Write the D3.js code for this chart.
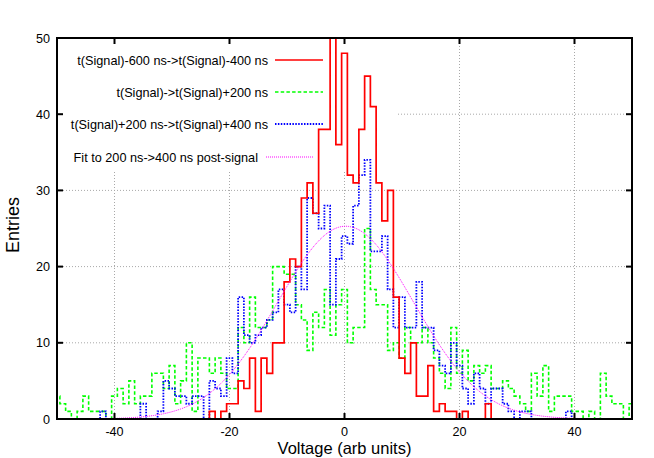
<!DOCTYPE html>
<html><head><meta charset="utf-8">
<script src="https://cdn.jsdelivr.net/npm/d3@7"></script>
<style>
body{margin:0;background:#fff}
text{font-family:"Liberation Sans",Arial,Helvetica,sans-serif;fill:#000}
</style>
</head><body>
<svg id="chart" width="654" height="458"></svg>
<script>
// ---- data ----
const binCenters = d3.range(-50, 51); // voltage bins, width 1
const xTicks = [-40, -20, 0, 20, 40];
const yTicks = [0, 10, 20, 30, 40, 50];
const seriesNames = [
  "t(Signal)-600 ns->t(Signal)-400 ns",
  "t(Signal)->t(Signal)+200 ns",
  "t(Signal)+200 ns->t(Signal)+400 ns",
  "Fit to 200 ns->400 ns post-signal"
];
const redValues = [
  0,0,0,0,0,0,0,0,0,0,
  0,0,0,0,0,0,0,0,0,0,
  0,0,0,0,0,0,0,1,0,1,
  2,2,5,4,8,1,8,6,10,10,
  18,21,20,29,31,27,38,38,55,36,
  48,32,31,38,45,41,31,26,30,16,
  8,6,10,3,3,7,1,2,1,1,
  0,1,0,0,0,2,0,0,0,0,
  0,0,0,0,0,0,0,0,0,0,
  0,0,0,0,0,0,0,0,0,0,
  0
];
const greenValues = [
  3,2,1,0,1,3,1,1,1,0,
  3,4,2,5,2,3,3,6,6,4,
  7,2,5,10,1,8,8,6,8,6,
  4,4,12,10,16,12,12,13,20,20,
  19,19,15,13,9,14,12,17,11,15,
  17,10,12,12,25,17,15,15,9,10,
  8,12,10,10,12,10,8,6,4,12,
  6,9,5,7,6,7,4,4,5,4,
  3,2,1,6,3,7,1,3,3,3,
  1,1,0,1,0,6,3,2,2,0,
  2
];
const blueValues = [
  0,0,0,0,0,0,0,0,1,0,
  0,0,0,0,0,2,0,0,1,5,
  4,3,3,2,3,3,0,5,4,3,
  8,6,16,11,10,11,12,13,14,17,
  15,14,20,17,29,27,25,28,15,21,
  24,23,28,32,34,22,22,24,17,12,
  16,12,12,18,12,12,9,7,6,10,
  7,4,2,6,4,2,4,4,2,1,
  0,1,1,0,0,0,0,0,0,1,
  0,0,0,0,0,0,0,0,0,0,
  0
];
// Gaussian fit parameters
const fitAmplitude = 25.3;
const fitMean = 0.2;
const fitSigma = 11.8;

// ---- layout ----
const W = 654, H = 458;
const m = {left: 57, right: 22, top: 38, bottom: 39};
const svg = d3.select("#chart");
const x = d3.scaleLinear().domain([-50, 50]).range([m.left, W - m.right]);
const y = d3.scaleLinear().domain([0, 50]).range([H - m.bottom, m.top]);

const keyBox = {x0: m.left, x1: 398, y0: m.top, y1: 172};

// grid
const grid = svg.append("g").attr("stroke", "#a8a8a8").attr("stroke-width", 1)
  .attr("stroke-dasharray", "1,2").attr("fill", "none");
xTicks.forEach(t => {
  const px = x(t);
  const top = (px >= keyBox.x0 && px <= keyBox.x1) ? keyBox.y1 : y(50);
  grid.append("line").attr("x1", px).attr("x2", px).attr("y1", y(0)).attr("y2", top);
});
yTicks.filter(t => t > 0 && t < 50).forEach(t => {
  const py = y(t);
  const left = (py >= keyBox.y0 && py <= keyBox.y1) ? keyBox.x1 : x(-50);
  grid.append("line").attr("x1", left).attr("x2", x(50)).attr("y1", py).attr("y2", py);
});

svg.append("clipPath").attr("id", "plotclip").append("rect")
  .attr("x", x(-50)).attr("y", y(50)).attr("width", x(50) - x(-50)).attr("height", y(0) - y(50));

function stepPoints(vals) {
  const pts = [[binCenters[0] - 0.5, 0]];
  binCenters.forEach((c, i) => {
    pts.push([c - 0.5, vals[i]]);
    pts.push([c + 0.5, vals[i]]);
  });
  pts.push([binCenters[binCenters.length - 1] + 0.5, 0]);
  return pts;
}
const line = d3.line().x(d => x(d[0])).y(d => y(d[1]));
const plot = svg.append("g").attr("clip-path", "url(#plotclip)");

const RED = "#ff0000", GREEN = "#00ff00", BLUE = "#0000ff", MAG = "#ff00ff";
const DASH_G = "3.5,2.2", DASH_B = "1.5,1.4", DASH_M = "1,1";

const fitX = d3.range(-50, 50.001, 0.25);
const fitPts = fitX.map(v => [v, fitAmplitude * Math.exp(-((v - fitMean) ** 2) / (2 * fitSigma * fitSigma))]);

plot.append("path").attr("d", line(stepPoints(greenValues))).attr("fill", "none")
  .attr("stroke", GREEN).attr("stroke-width", 1.6).attr("stroke-dasharray", DASH_G);
plot.append("path").attr("d", line(stepPoints(blueValues))).attr("fill", "none")
  .attr("stroke", BLUE).attr("stroke-width", 1.8).attr("stroke-dasharray", DASH_B);
plot.append("path").attr("d", line(stepPoints(redValues))).attr("fill", "none")
  .attr("stroke", RED).attr("stroke-width", 1.7);
plot.append("path").attr("d", line(fitPts)).attr("fill", "none")
  .attr("stroke", MAG).attr("stroke-width", 1).attr("stroke-dasharray", DASH_M);

// frame
svg.append("rect").attr("x", x(-50)).attr("y", y(50)).attr("width", x(50) - x(-50))
  .attr("height", y(0) - y(50)).attr("fill", "none").attr("stroke", "#000").attr("stroke-width", 2);

// ticks (inward, mirrored)
const tl = 6;
const tk = svg.append("g").attr("stroke", "#000").attr("stroke-width", 2);
xTicks.forEach(t => {
  tk.append("line").attr("x1", x(t)).attr("x2", x(t)).attr("y1", y(0)).attr("y2", y(0) - tl);
  tk.append("line").attr("x1", x(t)).attr("x2", x(t)).attr("y1", y(50)).attr("y2", y(50) + tl);
});
yTicks.forEach(t => {
  tk.append("line").attr("x1", x(-50)).attr("x2", x(-50) + tl).attr("y1", y(t)).attr("y2", y(t));
  tk.append("line").attr("x1", x(50)).attr("x2", x(50) - tl).attr("y1", y(t)).attr("y2", y(t));
});

// tick labels
svg.append("g").selectAll("text").data(xTicks).join("text")
  .attr("x", d => x(d)).attr("y", y(0) + 16.5).attr("text-anchor", "middle")
  .attr("font-size", 12.6).text(d => d);
svg.append("g").selectAll("text").data(yTicks).join("text")
  .attr("x", x(-50) - 7).attr("y", d => y(d) + 4.5).attr("text-anchor", "end")
  .attr("font-size", 12.6).text(d => d);

// axis titles
svg.append("text").attr("x", (x(-50) + x(50)) / 2).attr("y", 454).attr("text-anchor", "middle")
  .attr("font-size", 16.5).text("Voltage (arb units)");
svg.append("text").attr("transform", "translate(19,225) rotate(-90)")
  .attr("text-anchor", "middle").attr("font-size", 18).text("Entries");

// legend
const legend = [
  {name: seriesNames[0], color: RED, dash: null, w: 1.7, tx: 268, lx0: 275, lx1: 323, ly: 60},
  {name: seriesNames[1], color: GREEN, dash: DASH_G, w: 1.6, tx: 268, lx0: 275, lx1: 323, ly: 92},
  {name: seriesNames[2], color: BLUE, dash: DASH_B, w: 1.8, tx: 268, lx0: 275, lx1: 323, ly: 124},
  {name: seriesNames[3], color: MAG, dash: DASH_M, w: 1, tx: 258, lx0: 266, lx1: 313, ly: 157}
];
const lg = svg.append("g");
legend.forEach(l => {
  lg.append("text").attr("x", l.tx).attr("y", l.ly + 4.5).attr("text-anchor", "end")
    .attr("font-size", 12.7).text(l.name);
  lg.append("line").attr("x1", l.lx0).attr("x2", l.lx1).attr("y1", l.ly).attr("y2", l.ly)
    .attr("stroke", l.color).attr("stroke-width", l.w).attr("stroke-dasharray", l.dash);
});
</script>
</body></html>
